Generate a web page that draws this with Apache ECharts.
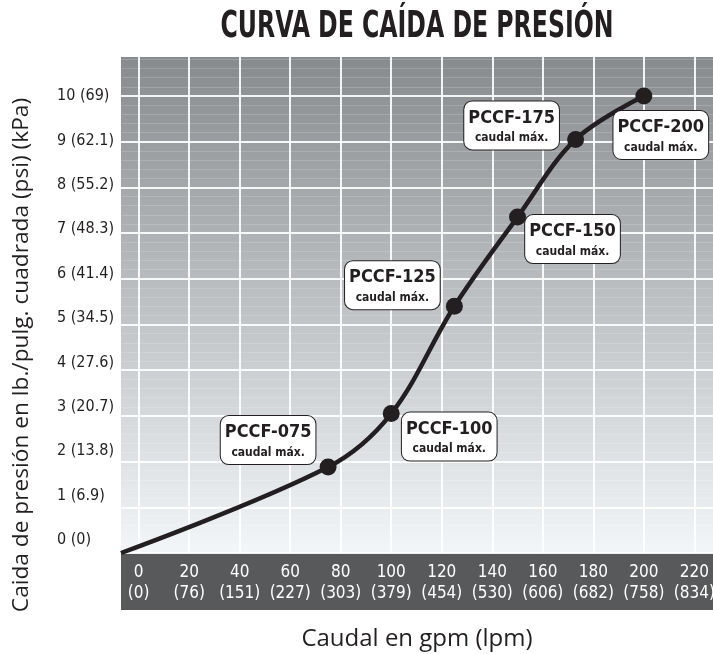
<!DOCTYPE html>
<html>
<head>
<meta charset="utf-8">
<title>Curva de caída de presión</title>
<script src="https://cdn.jsdelivr.net/npm/echarts@6/dist/echarts.min.js"></script>
<style>
  html, body { margin: 0; padding: 0; background: #fff; }
  #main { width: 713px; height: 654px; }
</style>
</head>
<body>
<div id="main"></div>
<script>
// datos de la curva (gpm, psi)
var flowGpm = [-7, 75, 100, 125, 150, 173, 200];
var dropPsi = [0, 1.88, 3.05, 5.4, 7.35, 9.05, 10];
var modelNames = ['', 'PCCF-075', 'PCCF-100', 'PCCF-125', 'PCCF-150', 'PCCF-175', 'PCCF-200'];

// etiquetas de los ejes
var xTicks = [0, 20, 40, 60, 80, 100, 120, 140, 160, 180, 200, 220];
var xTickLpm = ['0', '76', '151', '227', '303', '379', '454', '530', '606', '682', '758', '834'];
var yTicks = [0, 1, 2, 3, 4, 5, 6, 7, 8, 9, 10];
var yTickKpa = ['0', '6.9', '13.8', '20.7', '27.6', '34.5', '41.4', '48.3', '55.2', '62.1', '69'];

// desplazamiento de cada cuadro respecto al punto
var labelOffsets = [[0, 0], [-60, -27], [58, 23], [-62, -21], [55, 22], [-64, -14], [17, 39]];

var narrow = '"DejaVu Sans Condensed", "DejaVu Sans", sans-serif';

var points = flowGpm.map(function (x, i) {
    var item = { value: [x, dropPsi[i]] };
    if (i === 0) {
        item.symbolSize = 0;
        item.label = { show: false };
    } else {
        item.label = {
            show: true,
            position: 'inside',
            offset: labelOffsets[i],
            formatter: '{a|' + modelNames[i] + '}\n{b|caudal máx.}'
        };
    }
    return item;
});

var myChart = echarts.init(document.getElementById('main'));
var option = {
    animation: false,
    grid: {
        left: 121, right: 0, top: 57, bottom: 101,
        outerBoundsMode: 'none',
        show: true,
        borderWidth: 0,
        backgroundColor: new echarts.graphic.LinearGradient(0, 0, 0, 1, [
            { offset: 0, color: '#888b8e' },
            { offset: 0.45, color: '#b8bcbf' },
            { offset: 1, color: '#f3f6f8' }
        ])
    },
    graphic: [
        {
            type: 'rect',
            left: 121, top: 553,
            shape: { width: 592, height: 57 },
            style: { fill: '#58595b' },
            z: 0
        },
        {
            // título, estrechado como la tipografía original
            type: 'text',
            x: 417, y: 27,
            scaleX: 0.69,
            style: {
                text: 'CURVA DE CAÍDA DE PRESIÓN',
                fontFamily: narrow,
                fontWeight: 'bold',
                fontSize: 38,
                fill: '#231f20',
                align: 'center',
                verticalAlign: 'middle'
            }
        },
        {
            type: 'text',
            x: 22, y: 355,
            rotation: Math.PI / 2,
            style: {
                text: 'Caida de presión en lb./pulg. cuadrada (psi) (kPa)',
                fontFamily: '"Open Sans", sans-serif',
                fontSize: 22.7,
                fill: '#231f20',
                align: 'center',
                verticalAlign: 'middle'
            }
        }
    ],
    xAxis: {
        type: 'value',
        min: -7,
        max: 227.4,
        name: 'Caudal en gpm (lpm)',
        nameLocation: 'middle',
        nameGap: 74,
        nameTextStyle: { fontFamily: '"Open Sans", sans-serif', fontSize: 24, color: '#231f20' },
        axisLine: { show: false },
        axisTick: { show: false, customValues: xTicks },
        axisLabel: {
            customValues: xTicks,
            margin: 9,
            color: '#fff',
            fontFamily: narrow,
            fontSize: 17,
            lineHeight: 21,
            formatter: function (v) {
                var i = xTicks.indexOf(v);
                return v + '\n(' + xTickLpm[i] + ')';
            }
        },
        splitLine: { show: true, lineStyle: { color: 'rgba(255,255,255,0.9)', width: 2 } }
    },
    yAxis: [
        {
            type: 'value',
            min: 0,
            max: 10.853,
            axisLine: { show: false },
            axisTick: { show: false, customValues: yTicks },
            axisLabel: { show: false, customValues: yTicks },
            splitLine: { show: true, lineStyle: { color: 'rgba(255,255,255,0.9)', width: 2 } },
            minorTick: { show: false, splitNumber: 10 },
            minorSplitLine: { show: true, lineStyle: { color: 'rgba(255,255,255,0.16)', width: 1 } }
        },
        {
            type: 'value',
            position: 'left',
            min: -0.293,
            max: 10.878,
            axisLine: { show: false },
            axisTick: { show: false, customValues: yTicks },
            splitLine: { show: false },
            axisLabel: {
                customValues: yTicks,
                margin: 64,
                align: 'left',
                color: '#231f20',
                fontFamily: narrow,
                fontSize: 16,
                formatter: function (v) {
                    return v + ' (' + yTickKpa[v] + ')';
                }
            }
        }
    ],
    series: [{
        type: 'line',
        yAxisIndex: 0,
        smooth: 0.35,
        symbol: 'circle',
        symbolSize: 17,
        showAllSymbol: true,
        lineStyle: { color: '#231f20', width: 4.5 },
        itemStyle: { color: '#231f20' },
        label: {
            backgroundColor: '#fff',
            borderColor: '#231f20',
            borderWidth: 1,
            borderRadius: 8,
            padding: [4, 4, 4, 4],
            align: 'center',
            verticalAlign: 'middle',
            rich: {
                a: { fontFamily: narrow, fontWeight: 'bold', fontSize: 18, lineHeight: 25, color: '#231f20', align: 'center' },
                b: { fontFamily: narrow, fontWeight: 'bold', fontSize: 12, lineHeight: 15, color: '#231f20', align: 'center' }
            }
        },
        data: points
    }]
};
myChart.setOption(option);
</script>
</body>
</html>
